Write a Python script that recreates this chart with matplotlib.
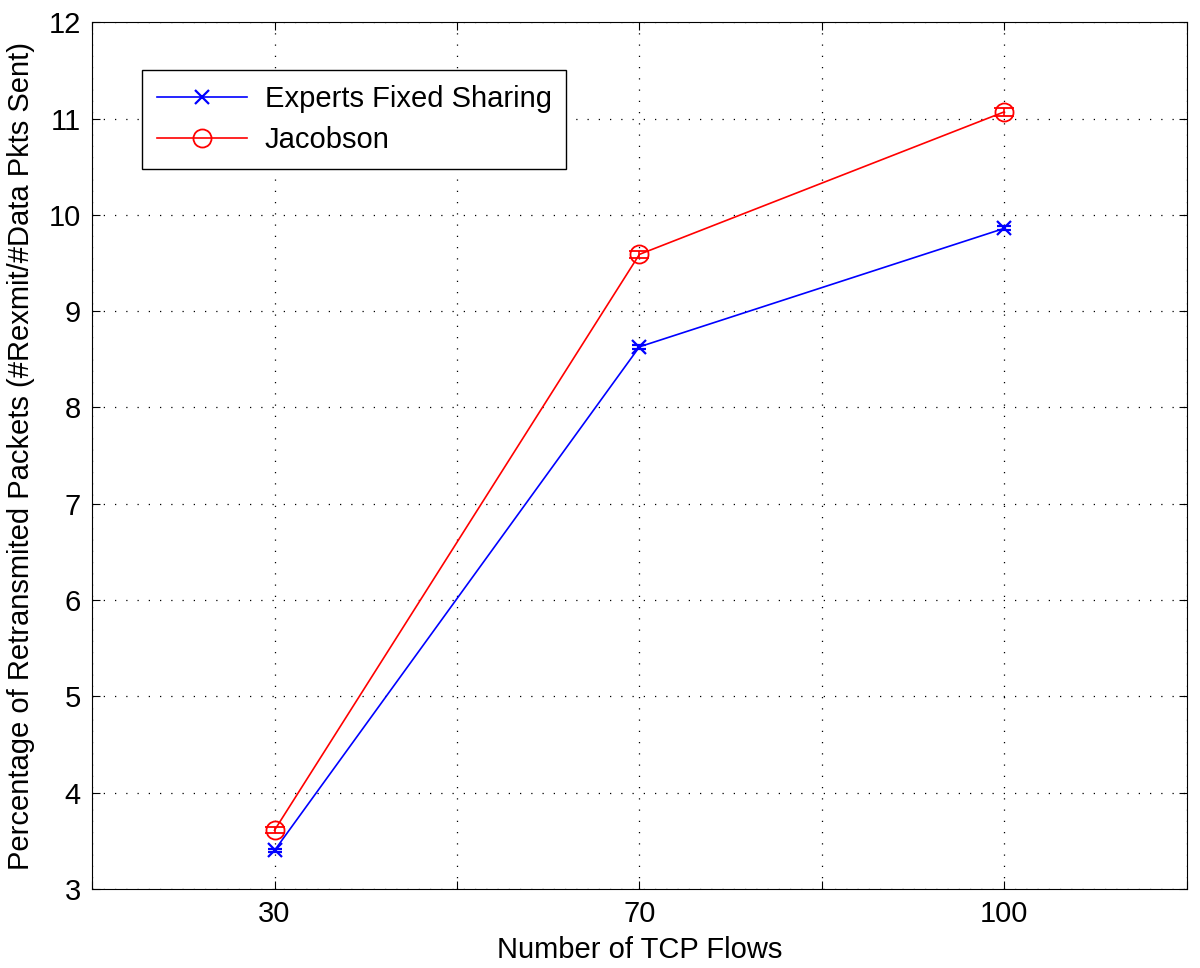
import numpy as np
import matplotlib
matplotlib.use("Agg")
import matplotlib.pyplot as plt
from matplotlib.lines import Line2D

plt.rcParams['font.family'] = ['Liberation Sans', 'DejaVu Sans']

# Data
flows = ["30", "70", "100"]
experts = [3.40, 8.63, 9.86]
experts_err = [0.02, 0.02, 0.02]
jacobson = [3.61, 9.59, 11.07]
jacobson_err = [0.03, 0.04, 0.04]

x = np.arange(1, len(flows) + 1)

fig = plt.figure(figsize=(12, 9.68), dpi=100)
ax = fig.add_axes([0.0767, 0.0816, 0.9123, 0.8954])

ax.errorbar(x, experts, yerr=experts_err, color="#0000ff", marker="x", markersize=10,
            mew=1.6, lw=1.2, capsize=5, elinewidth=1.2)
ax.errorbar(x, jacobson, yerr=jacobson_err, color="#ff0000", marker="o", markersize=13,
            mfc="none", mew=1.3, lw=1.2, capsize=7, elinewidth=1.2)

ax.set_xlim(0.5, 3.5)
ax.set_ylim(3, 12)
xt = np.arange(0.5, 3.51, 0.5)
ax.set_xticks(xt)
ax.set_xticklabels([flows[int(v) - 1] if v == int(v) and 1 <= v <= 3 else "" for v in xt])
ax.set_yticks(range(3, 13))
ax.tick_params(direction="in", top=True, right=True, labelsize=21, length=6, pad=8)
ax.grid(True, linestyle=(0, (1, 8)), color="black", linewidth=0.9)

ax.set_xlabel("Number of TCP Flows", fontsize=21, labelpad=6)
ax.set_ylabel("Percentage of Retransmited Packets (#Rexmit/#Data Pkts Sent)", fontsize=21, labelpad=10)

handles = [
    Line2D([], [], color="#0000ff", marker="x", markersize=10, mew=1.6, lw=1.2),
    Line2D([], [], color="#ff0000", marker="o", markersize=13, mfc="none", mew=1.3, lw=1.2),
]
labels = ["Experts Fixed Sharing", "Jacobson"]
leg = ax.legend(handles, labels, loc="upper left", bbox_to_anchor=(0.0457, 0.9446),
                borderaxespad=0, fontsize=21, fancybox=False, edgecolor="black", framealpha=1,
                handlelength=3.1, borderpad=0.5, labelspacing=0.45, handletextpad=0.6)
leg.get_frame().set_linewidth(1.0)

plt.savefig("out.png")
